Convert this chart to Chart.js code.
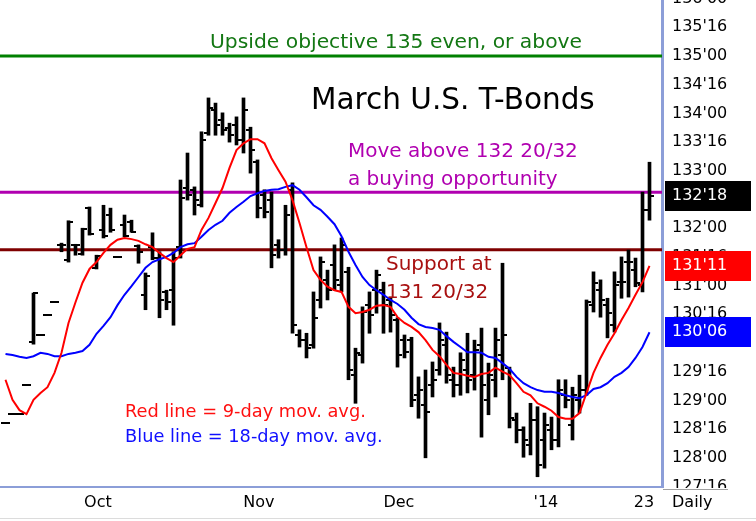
<!DOCTYPE html>
<html><head><meta charset="utf-8">
<script src="https://cdn.jsdelivr.net/npm/chart.js@4.4.0/dist/chart.umd.min.js"></script>
<style>html,body{margin:0;padding:0;background:#fff;overflow:hidden}canvas{display:block}</style>
</head><body>
<canvas id="c" width="756" height="521"></canvas>
<script>
// ---- DATA (March U.S. T-Bonds, daily) ----
const opens = [128.61,128.76,128.76,129.27,130.02,130.14,130.49,130.71,131.71,131.45,
 131.71,131.55,132.35,131.31,131.97,132.23,131.50,132.06,132.11,131.69,
 130.84,131.67,131.48,130.89,130.92,131.67,132.70,132.67,132.40,133.66,
 134.06,133.89,133.75,133.80,133.54,133.71,133.15,132.58,132.49,131.71,
 131.62,132.67,130.14,130.05,129.97,130.75,131.10,131.36,131.01,131.24,
 129.44,129.79,130.66,130.92,130.92,130.75,130.40,130.05,130.05,129.09,
 128.92,129.27,129.53,129.97,129.36,129.27,129.53,129.44,129.97,129.01,
 129.36,129.79,129.57,128.66,128.49,128.22,128.66,128.31,128.49,128.31,
 129.09,128.57,129.01,129.18,130.66,130.92,130.66,130.31,131.06,131.41,
 131.27,131.01,132.32];
const highs = [128.61,128.76,128.76,129.27,130.87,130.14,130.49,130.71,131.74,132.13,
 131.72,132.00,132.37,131.53,132.40,132.35,131.50,132.23,132.14,131.71,
 131.22,131.92,131.59,130.92,131.59,132.84,133.31,132.72,133.68,134.27,
 134.18,134.01,133.83,133.94,134.27,133.76,133.19,132.67,132.63,131.80,
 132.40,132.79,130.23,130.17,130.89,131.50,131.27,131.71,131.83,131.32,
 129.91,130.63,130.89,131.27,131.06,130.80,130.44,130.14,130.10,129.41,
 129.53,129.67,130.35,130.19,129.58,129.83,130.17,130.05,130.26,129.65,
 130.26,131.39,129.58,128.78,128.54,128.95,128.89,128.78,128.71,129.36,
 129.36,129.23,129.44,130.75,131.24,131.10,130.78,131.24,131.50,131.62,
 131.48,132.63,133.15];
const lows = [128.61,128.76,128.76,129.27,129.98,130.14,130.49,130.71,131.59,131.41,
 131.53,131.53,131.88,131.29,131.83,131.93,131.50,131.85,131.93,131.39,
 130.58,131.45,130.44,130.58,130.31,131.48,132.49,132.23,132.37,133.62,
 133.62,133.62,133.50,133.45,133.31,132.96,132.18,132.18,131.31,131.48,
 131.53,130.17,129.93,129.74,129.91,130.61,130.75,130.92,130.89,129.36,
 128.95,129.65,130.17,130.52,130.17,130.19,129.58,129.74,128.89,128.69,
 128.00,129.06,129.44,129.30,129.06,129.09,129.13,129.18,128.36,128.75,
 129.06,129.36,128.52,128.26,128.01,128.05,127.67,127.82,128.14,128.19,
 128.87,128.31,128.78,129.09,130.54,130.45,130.09,130.19,130.78,130.80,
 130.98,130.89,132.14];
const closes = [128.61,128.76,128.76,129.27,130.87,130.14,130.49,130.71,131.71,132.11,
 131.71,131.99,131.90,131.52,131.86,131.97,131.50,131.86,131.93,131.59,
 131.17,131.48,130.75,130.71,131.48,132.53,132.58,132.49,133.54,134.09,
 133.80,133.71,133.62,133.54,134.06,133.36,132.35,132.28,131.53,131.62,
 132.23,130.31,130.05,129.91,130.44,131.41,130.92,131.10,131.71,129.53,
 129.83,130.54,130.49,131.19,130.66,130.49,129.79,129.84,129.01,129.18,
 128.80,129.36,130.05,129.44,129.27,129.70,129.36,129.88,129.27,129.44,
 130.05,130.14,128.69,128.49,128.31,128.66,127.87,128.57,128.31,129.18,
 129.01,129.09,129.18,130.71,131.05,130.75,130.52,131.01,131.06,131.41,
 131.05,132.32,132.5625];
const ma9 = [129.36,129.01,128.83,128.76,129.01,129.13,129.23,129.48,129.83,130.35,
 130.71,131.05,131.29,131.41,131.57,131.71,131.80,131.83,131.81,131.78,
 131.72,131.67,131.57,131.48,131.41,131.53,131.64,131.67,131.97,132.18,
 132.44,132.70,133.05,133.36,133.48,133.55,133.55,133.48,133.22,133.01,
 132.81,132.49,132.09,131.67,131.27,131.10,130.98,130.92,130.89,130.63,
 130.52,130.54,130.58,130.65,130.66,130.63,130.45,130.35,130.28,130.19,
 130.05,129.88,129.77,129.62,129.48,129.46,129.43,129.41,129.46,129.48,
 129.57,129.50,129.44,129.30,129.15,129.09,128.95,128.89,128.82,128.71,
 128.68,128.68,128.78,129.13,129.48,129.74,129.97,130.17,130.40,130.61,
 130.84,131.06,131.34375];
const ma18 = [129.81,129.79,129.76,129.74,129.77,129.83,129.81,129.77,129.77,129.81,
 129.83,129.86,129.97,130.16,130.30,130.45,130.66,130.84,130.99,131.15,
 131.31,131.41,131.46,131.50,131.57,131.67,131.72,131.74,131.85,131.97,
 132.06,132.13,132.27,132.37,132.46,132.56,132.61,132.65,132.67,132.68,
 132.72,132.75,132.67,132.54,132.40,132.32,132.20,132.07,131.86,131.59,
 131.36,131.15,131.01,130.92,130.84,130.75,130.68,130.58,130.44,130.33,
 130.28,130.26,130.23,130.12,130.02,129.93,129.84,129.84,129.83,129.76,
 129.74,129.65,129.55,129.41,129.30,129.23,129.18,129.15,129.15,129.13,
 129.09,129.06,129.04,129.09,129.20,129.23,129.30,129.41,129.48,129.58,
 129.74,129.93,130.1875];
const levels = [135, 132.625, 131.625];
const xTickIndex = [13.2, 36.2, 56.2, 77.2, 91.2];
const xTickLabels = ['Oct', 'Nov', 'Dec', "'14", '23'];
const yTickValues = [127.5,128,128.5,129,129.5,130,130.5,131,131.5,132,132.5,133,133.5,134,134.5,135,135.5,136];
const yTickLabels = ["127'16","128'00","128'16","129'00","129'16","130'00","130'16","131'00","131'16","132'00","132'16","133'00","133'16","134'00","134'16","135'00","135'16","136'00"];

// ---- layout / style ----
const levelColors = ['#008000', '#b000b0', '#7f0000'];
const X_MIN = -0.7857, X_MAX = 93.7857;
const Y_MIN = 127.4915, Y_MAX = 135.976;
const FONT = '"DejaVu Sans", Verdana, sans-serif';
const notes = [
  {t:'Upside objective 135 even, or above', x:210, y:48, c:'#137713', s:20.3},
  {t:'March U.S. T-Bonds', x:311, y:109, c:'#000000', s:29.5},
  {t:'Move above 132 20/32', x:348, y:157, c:'#b000b0', s:20},
  {t:'a buying opportunity', x:348, y:185, c:'#b000b0', s:20},
  {t:'Support at', x:386, y:270, c:'#a81010', s:20},
  {t:'131 20/32', x:386, y:298, c:'#a81010', s:20},
  {t:'Red line = 9-day mov. avg.', x:125, y:417, c:'#ff1010', s:17.8},
  {t:'Blue line = 18-day mov. avg.', x:125, y:442, c:'#1010ff', s:17.8}
];

function tickImg(side) {
  const c = document.createElement('canvas'); c.width = 9; c.height = 2;
  const g = c.getContext('2d'); g.fillStyle = '#000';
  if (side === 'open') g.fillRect(0, 0, 5, 2); else g.fillRect(4, 0, 5, 2);
  return c;
}
const idx = closes.map((_, i) => i);

const overlay = {
  id: 'overlay',
  afterDraw(chart) {
    const ctx = chart.ctx, ys = chart.scales.y;
    ctx.save();
    ctx.fillStyle = '#fff'; ctx.fillRect(663, 488, 93, 33);
    ctx.strokeStyle = '#a0a0a0'; ctx.lineWidth = 1;
    ctx.beginPath(); ctx.moveTo(663, 489.5); ctx.lineTo(728, 489.5); ctx.stroke();
    ctx.strokeStyle = '#dcdcdc';
    ctx.beginPath(); ctx.moveTo(0, 518.5); ctx.lineTo(756, 518.5); ctx.stroke();
    ctx.fillStyle = '#000'; ctx.font = '16px ' + FONT; ctx.textBaseline = 'middle'; ctx.textAlign = 'left';
    ctx.fillText('Daily', 672, 503);
    ctx.textBaseline = 'alphabetic';
    notes.forEach(n => { ctx.fillStyle = n.c; ctx.font = n.s + 'px ' + FONT; ctx.fillText(n.t, n.x, n.y); });
    const last = closes.length - 1;
    const boxes = [[ma18[last], '#0000ff'], [ma9[last], '#ff0000'], [closes[last], '#000000']];
    boxes.forEach(([v, col]) => {
      const py = ys.getPixelForValue(v);
      ctx.fillStyle = col; ctx.fillRect(665, Math.round(py - 15), 86, 30);
      ctx.fillStyle = '#fff'; ctx.font = '16px ' + FONT; ctx.textBaseline = 'middle';
      const w = Math.floor(v), f = Math.round((v - w) * 32);
      ctx.fillText(w + "'" + String(f).padStart(2, '0'), 672, py);
    });
    ctx.restore();
  }
};

new Chart(document.getElementById('c'), {
  type: 'line',
  data: {
    datasets: [
      {type:'line', data: idx.map(i => ({x:i, y:ma9[i]})), borderColor:'#ff0000', borderWidth:2, pointRadius:0, order:1},
      {type:'line', data: idx.map(i => ({x:i, y:ma18[i]})), borderColor:'#0000ff', borderWidth:2, pointRadius:0, order:2},
      {type:'line', data: idx.map(i => ({x:i, y:opens[i]})), showLine:false, pointStyle: tickImg('open'), pointRadius:3, order:3},
      {type:'line', data: idx.map(i => ({x:i, y:closes[i]})), showLine:false, pointStyle: tickImg('close'), pointRadius:3, order:3},
      {type:'bar', data: idx.map(i => ({x:i, y:[lows[i], highs[i]]})), backgroundColor:'#000', borderWidth:0, barThickness:3, grouped:false, order:4},
      ...levels.map((v, k) => ({type:'line', data:[{x:X_MIN, y:v}, {x:X_MAX, y:v}], borderColor: levelColors[k], borderWidth:3, pointRadius:0, order:5}))
    ]
  },
  options: {
    responsive: false, animation: false, devicePixelRatio: 1,
    layout: {padding: 0, autoPadding: false},
    events: [],
    plugins: {legend: {display:false}, tooltip: {enabled:false}},
    scales: {
      x: {
        type: 'linear', position: 'bottom', min: X_MIN, max: X_MAX, offset: false,
        grid: {display:false, drawTicks:false},
        border: {display:true, color:'#8c9ed8', width:2},
        ticks: {autoSkip:false, maxRotation:0, padding:6, color:'#000', font:{family:FONT, size:16},
          callback: (v, i) => xTickLabels[i]},
        afterBuildTicks: s => { s.ticks = xTickIndex.map(v => ({value:v})); },
        afterFit: s => { s.height = 34; s.paddingLeft = 0; s.paddingRight = 0; }
      },
      y: {
        type: 'linear', position: 'right', min: Y_MIN, max: Y_MAX, beginAtZero: false,
        grid: {display:false, drawTicks:false},
        border: {display:true, color:'#8c9ed8', width:3},
        ticks: {autoSkip:false, padding:10, color:'#000', font:{family:FONT, size:16},
          callback: (v, i) => yTickLabels[i]},
        afterBuildTicks: s => { s.ticks = yTickValues.map(v => ({value:v})); },
        afterFit: s => { s.width = 94; s.paddingTop = 0; s.paddingBottom = 0; }
      }
    }
  },
  plugins: [overlay]
});
</script>
</body></html>
